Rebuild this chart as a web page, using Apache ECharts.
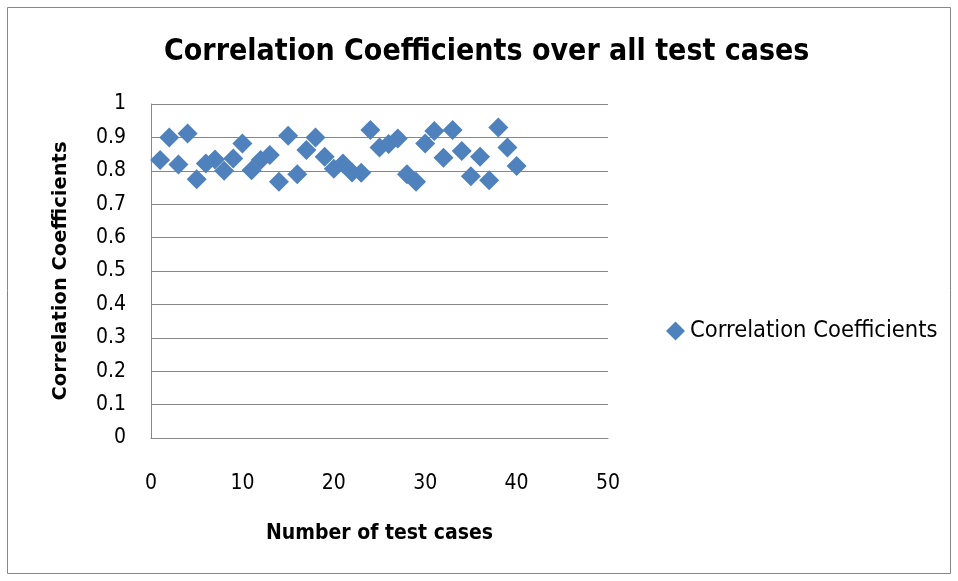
<!DOCTYPE html>
<html>
<head>
<meta charset="utf-8">
<script src="https://cdn.jsdelivr.net/npm/echarts@6/dist/echarts.min.js"></script>
<style>
html,body{margin:0;padding:0;background:#fff;}
#chart{width:958px;height:581px;}
</style>
</head>
<body>
<div id="chart"></div>
<script>
const titleText = "Correlation Coefficients over all test cases";
const seriesName = "Correlation Coefficients";
const xAxisName = "Number of test cases";
const yAxisName = "Correlation Coefficients";
const testCases = [1,2,3,4,5,6,7,8,9,10,11,12,13,14,15,16,17,18,19,20,21,22,23,24,25,26,27,28,29,30,31,32,33,34,35,36,37,38,39,40];
const coefficients = [0.832,0.900,0.819,0.912,0.775,0.822,0.834,0.800,0.837,0.882,0.802,0.832,0.847,0.767,0.905,0.790,0.862,0.900,0.842,0.806,0.822,0.795,0.794,0.922,0.870,0.880,0.897,0.790,0.767,0.882,0.919,0.839,0.922,0.859,0.784,0.842,0.772,0.930,0.870,0.814];

const chart = echarts.init(document.getElementById('chart'));
const font = "'Liberation Sans Narrow', 'DejaVu Sans Condensed', sans-serif";
chart.setOption({
  animation: false,
  backgroundColor: '#fff',
  graphic: [{
    type: 'rect', shape: {x: 7.5, y: 7.5, width: 943, height: 566},
    style: {fill: 'none', stroke: '#868686', lineWidth: 1}, z: -1
  }],
  title: {
    text: titleText, left: 159, top: 32,
    textStyle: {fontFamily: font, fontWeight: 'bold', fontSize: 30, color: '#000'}
  },
  legend: {
    left: 661, top: 314, itemWidth: 19, itemHeight: 19, itemGap: 4,
    data: [{name: seriesName, icon: 'diamond'}],
    textStyle: {fontFamily: font, fontSize: 23.5, color: '#000'}
  },
  grid: {left: 151, top: 104, right: 350, bottom: 143},
  xAxis: {
    type: 'value', min: 0, max: 50, interval: 10,
    name: xAxisName, nameLocation: 'middle', nameGap: 85,
    nameTextStyle: {fontFamily: font, fontWeight: 'bold', fontSize: 21, color: '#000'},
    axisLine: {show: true, lineStyle: {color: '#868686'}},
    axisTick: {show: false},
    splitLine: {show: false},
    axisLabel: {margin: 35, fontFamily: font, fontSize: 21, color: '#000'}
  },
  yAxis: {
    type: 'value', min: 0, max: 1, interval: 0.1,
    name: yAxisName, nameLocation: 'middle', nameGap: 80, nameRotate: 90,
    nameTextStyle: {fontFamily: "'DejaVu Sans', sans-serif", fontWeight: 'bold', fontSize: 19.5, color: '#000'},
    axisLine: {show: true, lineStyle: {color: '#868686'}},
    axisTick: {show: false},
    splitLine: {show: true, lineStyle: {color: '#868686', width: 1}},
    axisLabel: {margin: 25, fontFamily: font, fontSize: 21, color: '#000',
      formatter: v => (Math.round(v*10)/10).toString()}
  },
  series: [{
    name: seriesName, type: 'scatter', symbol: 'diamond', symbolSize: 20,
    itemStyle: {color: '#4F81BD', opacity: 1},
    data: testCases.map((x, i) => [x, coefficients[i]])
  }]
});
</script>
</body>
</html>
